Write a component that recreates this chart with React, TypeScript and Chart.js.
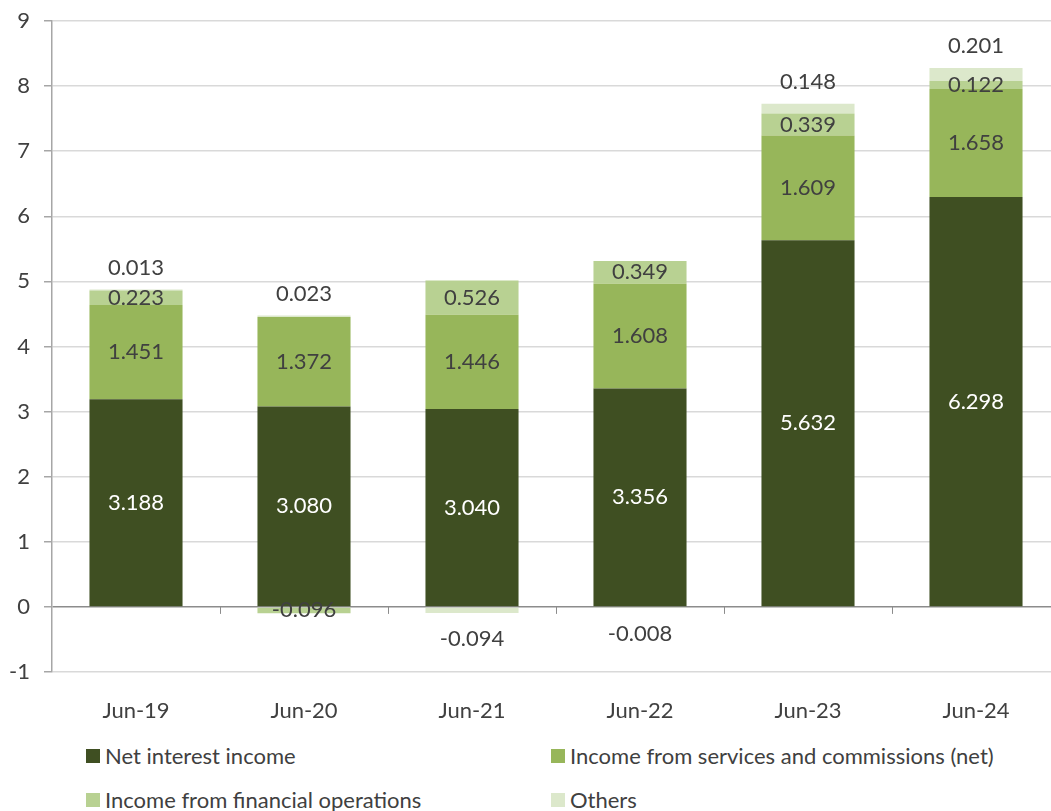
import React, { useEffect, useRef } from "react";
import { Chart, registerables } from "chart.js";

Chart.register(...registerables);

const categories = ["Jun-19", "Jun-20", "Jun-21", "Jun-22", "Jun-23", "Jun-24"];
const netInterestIncome = [3.188, 3.08, 3.04, 3.356, 5.632, 6.298];
const servicesCommissions = [1.451, 1.372, 1.446, 1.608, 1.609, 1.658];
const financialOperations = [0.223, -0.096, 0.526, 0.349, 0.339, 0.122];
const others = [0.013, 0.023, -0.094, -0.008, 0.148, 0.201];

const seriesNames = [
  "Net interest income",
  "Income from services and commissions (net)",
  "Income from financial operations",
  "Others",
];
const seriesColors = ["#3f4f22", "#97b65a", "#b8d192", "#dce8cb"];
const labelColors = ["#ffffff", "#404040", "#404040", "#404040"];
const yMin = -1;
const yMax = 9;

const FONT = "Lato, 'Open Sans', sans-serif";
const TEXT = "#404040";
const FS = 22;

const labelPlugin = {
  id: "valueLabels",
  afterDatasetsDraw(chart: any) {
    const ctx = chart.ctx;
    ctx.save();
    ctx.font = `${FS}px ${FONT}`;
    ctx.textAlign = "center";
    ctx.textBaseline = "middle";
    chart.data.datasets.forEach((ds: any, i: number) => {
      const meta = chart.getDatasetMeta(i);
      meta.data.forEach((el: any, j: number) => {
        const v = ds.data[j];
        let y = (el.y + el.base) / 2;
        if (i === 3) {
          y = v >= 0 ? el.y - 22 : el.y + 26;
        }
        ctx.fillStyle = labelColors[i];
        ctx.fillText(v.toFixed(3), el.x, y);
      });
    });
    const xs = chart.scales.x;
    const ys = chart.scales.y;
    const y0 = ys.getPixelForValue(0);
    ctx.strokeStyle = "#8c8c8c";
    ctx.lineWidth = 1;
    for (let k = 1; k < categories.length; k++) {
      const xp = Math.round((xs.getPixelForValue(k - 1) + xs.getPixelForValue(k)) / 2) + 0.5;
      ctx.beginPath();
      ctx.moveTo(xp, y0);
      ctx.lineTo(xp, y0 + 7);
      ctx.stroke();
    }
    ctx.restore();
  },
};

export default function App() {
  const ref = useRef<HTMLCanvasElement>(null);
  useEffect(() => {
    if (!ref.current) return;
    const data = [netInterestIncome, servicesCommissions, financialOperations, others];
    const chart = new Chart(ref.current, {
      type: "bar",
      data: {
        labels: categories,
        datasets: data.map((d, i) => ({
          label: seriesNames[i],
          data: d,
          backgroundColor: seriesColors[i],
          borderWidth: 0,
          barPercentage: 0.554,
          categoryPercentage: 1,
        })),
      },
      options: {
        animation: false,
        responsive: false,
        maintainAspectRatio: false,
        layout: { padding: { top: 21, right: 10, left: 0, bottom: 0 } },
        plugins: { legend: { display: false }, tooltip: { enabled: false } },
        scales: {
          x: {
            stacked: true,
            grid: { display: false },
            border: { display: false },
            ticks: { color: TEXT, font: { family: FONT, size: FS }, padding: 18 },
            afterFit: (s: any) => {
              s.height = 48;
              s.paddingLeft = 0;
              s.paddingRight = 0;
            },
          },
          y: {
            stacked: true,
            min: yMin,
            max: yMax,
            ticks: {
              stepSize: 1,
              color: TEXT,
              font: { family: FONT, size: FS },
              padding: 14,
            },
            grid: {
              color: (c: any) => (c.tick && c.tick.value === 0 ? "#8c8c8c" : "#d9d9d9"),
              lineWidth: 1.5,
              tickLength: 8,
              tickColor: "#a6a6a6",
            },
            border: { display: true, color: "#a6a6a6", width: 1.5 },
            afterFit: (s: any) => {
              s.width = 52;
              s.paddingTop = 0;
              s.paddingBottom = 0;
            },
          },
        },
      },
      plugins: [labelPlugin],
    });
    return () => chart.destroy();
  }, []);

  const legendPos = [
    { left: 86, top: 749 },
    { left: 551, top: 749 },
    { left: 86, top: 793 },
    { left: 551, top: 793 },
  ];

  return (
    <div
      style={{
        position: "absolute",
        left: 0,
        top: 0,
        width: 1051,
        height: 811,
        overflow: "hidden",
        background: "#ffffff",
      }}
    >
      <canvas ref={ref} width={1070} height={720} style={{ display: "block" }} />
      {seriesNames.map((n, i) => (
        <div
          key={n}
          style={{
            position: "absolute",
            left: legendPos[i].left,
            top: legendPos[i].top,
            display: "flex",
            alignItems: "center",
            fontFamily: FONT,
            fontSize: FS,
            color: TEXT,
            whiteSpace: "nowrap",
            lineHeight: "14px",
          }}
        >
          <span
            style={{
              display: "inline-block",
              width: 14,
              height: 14,
              background: seriesColors[i],
              marginRight: 5,
            }}
          />
          <span>{n}</span>
        </div>
      ))}
    </div>
  );
}
